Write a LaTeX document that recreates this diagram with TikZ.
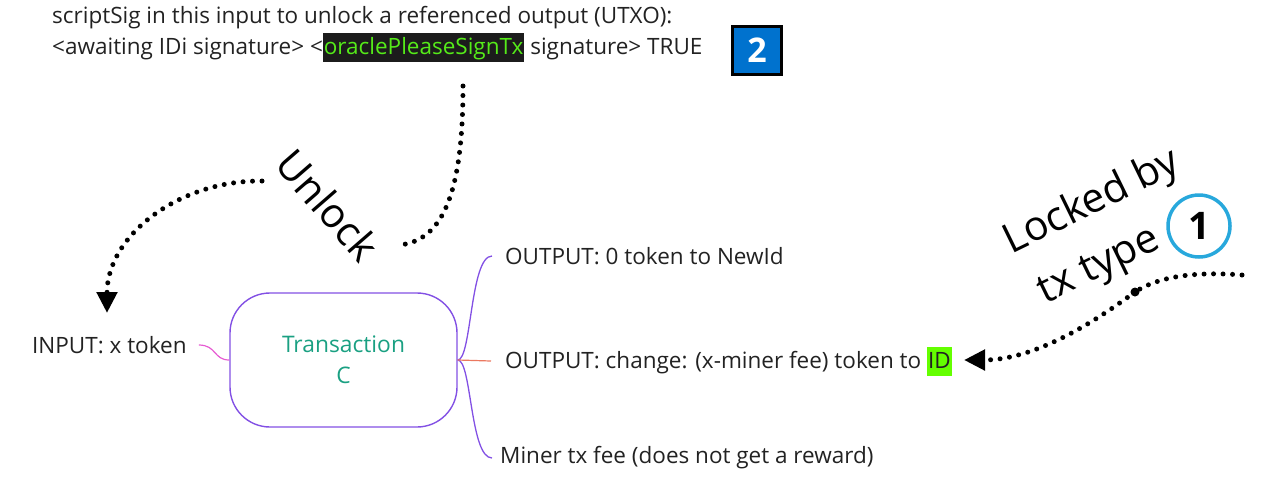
\documentclass[tikz,border=0pt]{standalone}
\usepackage{fontspec}
\setmainfont{Open Sans}
\usetikzlibrary{arrows.meta}
\definecolor{txt}{RGB}{34,34,34}
\definecolor{purp}{RGB}{130,80,228}
\definecolor{tealc}{RGB}{26,160,130}
\definecolor{pinkc}{RGB}{230,90,210}
\definecolor{orangec}{RGB}{235,120,95}
\definecolor{hlgreen}{RGB}{100,255,0}
\definecolor{codegreen}{RGB}{85,235,25}
\definecolor{codebg}{RGB}{28,28,28}
\definecolor{boxblue}{RGB}{0,114,206}
\definecolor{ring}{RGB}{40,168,220}
\newcommand\hlbox[2]{{\setlength{\fboxsep}{0pt}\colorbox{#1}{\rule[-7pt]{0pt}{29pt}\kern1pt#2\kern1pt}}}
\begin{document}
\begin{tikzpicture}[x=1pt,y=-1pt,
  lbl/.style={inner sep=0pt, anchor=west, text=txt, font=\fontsize{22.5}{26}\selectfont},
  big/.style={inner sep=0pt, text=black, font=\fontsize{41}{48}\selectfont},
  dots/.style={line width=5pt, line cap=round, dash pattern=on 0pt off 9.5pt},
  tip/.style={-{Triangle[length=21pt,width=20pt]}},
  branch/.style={purp, line width=1.3pt},
]
\useasboundingbox (0,0) rectangle (1274,491);
% top script text
\node[lbl] (l1) at (52,18) {scriptSig in this input to unlock a referenced output (UTXO):};
\node[lbl] (l2) at (52,47) {<awaiting IDi signature> <\hlbox{codebg}{\textcolor{codegreen}{oraclePleaseSignTx}} signature> TRUE};
\node[draw=black, line width=3pt, fill=boxblue, minimum width=49pt, minimum height=48pt, inner sep=0pt,
      text=white, font=\fontsize{34}{34}\selectfont\bfseries] (n2) at (757,50) {2};
% transaction
\node[draw=purp, line width=1.4pt, rounded corners=40pt, minimum width=227pt, minimum height=134pt,
      text=tealc, align=center, font=\fontsize{22.8}{31}\selectfont] (tx) at (343.5,360) {Transaction\\C};
\node[lbl] (in) at (32,345) {INPUT: x token};
\node[lbl] (o1) at (505,256) {OUTPUT: 0 token to NewId};
\node[lbl] (o2) at (505,361) {OUTPUT: change: (x-miner fee) token to \hlbox{hlgreen}{ID}};
\node[lbl] (o3) at (500,458) {Miner tx fee (does not get a reward)};
\draw[pinkc, line width=1.2pt] ([xshift=12pt]in.east) .. controls +(18,0) and +(-16,0) .. (tx.west);
\draw[branch] (tx.east) .. controls +(14,0) and +(-22,0) .. ([xshift=-13pt]o1.west);
\draw[branch] (tx.east) .. controls +(14,0) and +(-22,0) .. ([xshift=-8pt]o3.west);
\draw[orangec, line width=1.2pt] (tx.east) -- ([xshift=-14pt]o2.west);
% Unlock
\node[big, rotate=-49] (unlock) at (328,205) {Unlock};
\coordinate (u1s) at (463,86);
\coordinate (u1e) at (400,245);
\draw[dots] (u1s) .. controls (463,200) and (440,240) .. (u1e);
\coordinate (u2s) at (262,181);
\coordinate (u2e) at (107,313);
\draw[dots, tip] (u2s) .. controls (180,180) and (107,235) .. (u2e);
% Locked by
\node[big, rotate=26] (lk1) at (1092,203) {Locked by};
\node[big, rotate=26] (lk2) at (1100,268) {tx type};
\node[circle, draw=ring, line width=3.5pt, minimum size=62pt, inner sep=0pt,
      font=\fontsize{38}{38}\selectfont\bfseries] (c1) at (1199,226) {1};
\node[circle, fill=black, inner sep=0pt, minimum size=9pt] (jd) at (1135,292) {};
\coordinate (l3s) at (1242,275);
\coordinate (l3e) at (964,360);
\draw[dots] (l3s) .. controls (1180,270) and (1150,282) .. (jd.center);
\draw[dots, tip] (jd.center) .. controls (1105,314) and (1040,360) .. (l3e);
\end{tikzpicture}
\end{document}
